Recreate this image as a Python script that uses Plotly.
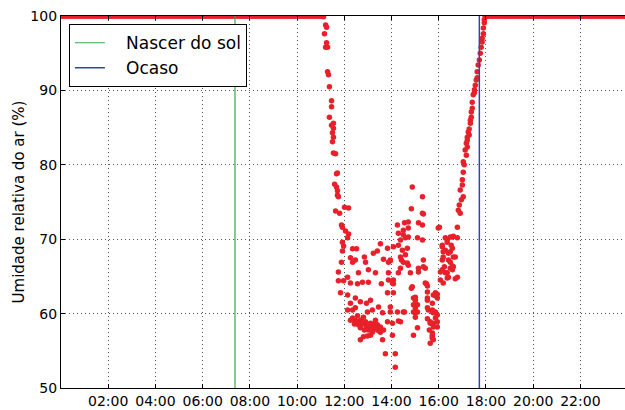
import plotly.graph_objects as go

# ---- data (hours of day, relative humidity %) ----
flat_morning_hours = [round(i * 0.05, 2) for i in range(0, 222)]      # 00:00 .. 11:05
flat_morning_values = [100.0] * len(flat_morning_hours)
flat_evening_hours = [round(17.97 + i * 0.05, 2) for i in range(0, 122)]  # 17:58 .. 24:00
flat_evening_values = [100.0] * len(flat_evening_hours)

dip_hours = [
    11.12, 11.21, 11.25, 11.16, 11.25, 11.21, 11.29, 11.29, 11.33, 11.37, 11.46, 11.46,
    11.37, 11.54, 11.46, 11.54, 11.50, 11.54, 11.50, 11.54, 11.63, 11.67, 11.71, 11.59,
    11.67, 11.71, 11.71, 11.75, 11.63, 11.80, 12.01, 12.18, 11.88, 11.92, 12.05, 12.18,
    12.14, 11.92, 11.97, 11.92, 12.35, 12.52, 11.88, 12.26, 12.47, 12.85, 13.23, 13.40,
    13.53, 13.83, 13.66, 13.95,
    12.35, 12.90, 13.87, 14.50, 14.71, 15.35, 15.14, 11.75, 12.14, 12.60, 13.02, 13.32,
    13.87, 14.29, 16.07, 16.28, 16.49, 16.62, 11.75, 11.97, 12.26, 12.56, 12.77, 13.02,
    13.57, 13.87, 14.08, 16.36, 16.70, 14.84, 15.48, 15.52, 11.84, 12.14, 12.47, 13.83,
    14.08, 14.93, 15.86, 15.94, 12.68, 12.94, 13.11, 12.26, 13.45, 13.95, 14.93, 15.01,
    15.52, 15.73, 12.14, 12.35, 12.47, 12.98, 13.19, 13.62, 13.95, 14.25, 14.50, 15.01,
    15.77, 12.26, 12.47, 12.68, 12.81, 12.90, 13.11, 13.40, 13.53, 13.23, 13.66, 13.83,
    14.04, 14.29, 15.01, 15.52, 15.86, 15.64, 15.77, 12.68, 13.02, 13.19, 13.53, 15.10,
    13.11, 12.81, 12.68, 13.62, 14.04, 14.93, 15.73, 15.73, 15.64, 15.77, 13.74, 14.16,
    14.16,
    12.35, 12.52, 12.60, 12.77, 12.94, 13.02, 13.15, 13.28, 13.36, 13.45, 12.85, 12.43,
    12.56, 12.98, 13.32,
    14.88, 15.31, 14.84, 15.31, 15.35, 14.25, 14.55, 14.71, 14.29, 14.50, 14.71, 14.50,
    14.38, 14.59, 14.71, 15.14, 15.31, 15.10, 15.31, 16.03, 14.08, 14.29, 14.46, 14.67,
    14.38, 14.59, 14.42, 14.67, 15.35, 15.14, 15.43, 14.38, 14.80, 13.95, 14.08, 14.04,
    14.88, 15.43, 15.01, 15.86, 15.52,
    16.15, 16.36, 16.58, 16.79, 16.28, 16.49, 16.19, 16.41, 16.70, 16.15, 16.36, 16.58,
    16.07, 16.19, 16.41, 16.79,
    15.52, 15.77, 15.94, 15.01, 15.52, 15.73, 15.10, 14.55, 14.93, 15.10, 15.56, 15.73,
    15.86, 15.94, 14.38, 15.64, 15.77, 15.94, 15.60, 15.94, 15.73, 15.73,
    17.25, 17.29, 17.21, 17.17, 17.21, 17.12, 17.04, 17.08, 17.04, 17.00, 16.91, 17.04,
    16.96, 16.83, 16.91, 16.79, 15.98, 16.49, 16.62, 16.28, 16.36, 16.15, 16.53, 16.58,
    16.19, 16.41, 16.62, 16.15, 16.49, 16.24, 16.58,
    17.97, 17.93, 17.89, 17.89, 17.84, 17.80, 17.76, 17.72, 17.67, 17.63, 17.63, 17.55,
    17.51, 17.46, 17.42, 17.42, 17.38, 17.34, 17.29, 17.21,
    17.59, 17.51, 17.38, 17.34, 17.17, 17.00, 16.87, 17.93, 17.84,
]
dip_values = [
    99.9, 98.8, 98.5, 97.6, 96.4, 95.8, 95.8, 92.5, 92.1, 90.5, 88.6, 87.8,
    86.4, 85.6, 85.3, 84.9, 84.3, 83.7, 83.1, 81.6, 81.5, 78.8, 78.9, 77.4,
    77.0, 76.5, 75.9, 75.7, 73.8, 73.5, 74.3, 74.2, 71.9, 71.6, 71.1, 70.7,
    70.2, 69.6, 69.1, 68.4, 68.7, 68.7, 66.9, 67.5, 67.2, 67.6, 68.1, 68.4,
    69.4, 68.8, 67.3, 67.1,
    66.9, 66.9, 66.9, 66.9, 66.5, 66.3, 65.6, 65.6, 64.9, 65.5, 65.9, 65.5,
    65.5, 65.5, 65.6, 65.5, 66.1, 66.3, 64.4, 64.4, 64.1, 64.0, 64.2, 64.2,
    64.0, 64.5, 64.0, 64.8, 64.7, 63.4, 64.0, 62.9, 62.8, 62.5, 62.1, 62.8,
    62.8, 62.1, 62.8, 62.1, 61.6, 61.4, 61.8, 61.4, 60.9, 60.9, 61.2, 60.8,
    60.8, 60.5, 60.5, 60.5, 60.8, 60.2, 60.5, 60.1, 60.2, 60.2, 60.2, 60.1,
    60.1, 59.1, 59.1, 59.1, 59.5, 58.9, 58.7, 58.5, 58.2, 58.1, 57.8, 58.9,
    58.7, 59.0, 59.5, 59.3, 59.4, 58.7, 58.2, 58.1, 57.8, 57.5, 57.5, 58.1,
    57.1, 56.9, 56.5, 56.5, 57.1, 57.1, 57.4, 56.9, 56.0, 56.5, 54.6, 54.6,
    52.8,
    59.4, 58.9, 58.5, 58.6, 58.3, 58.5, 58.2, 58.6, 57.9, 57.7, 57.8, 58.6,
    59.7, 57.0, 59.1,
    77.0, 75.7, 74.1, 73.5, 73.4, 71.9, 72.2, 72.3, 70.8, 71.2, 71.5, 70.6,
    69.9, 70.2, 70.3, 72.2, 71.9, 70.2, 69.9, 71.6, 69.0, 69.2, 68.5, 68.8,
    67.6, 67.9, 67.2, 66.8, 67.2, 66.1, 66.1, 66.1, 65.5, 67.2, 64.5, 64.1,
    63.6, 64.1, 62.2, 62.4, 62.1,
    69.0, 69.9, 70.3, 70.2, 68.5, 68.3, 67.6, 67.2, 67.6, 65.9, 65.5, 65.9,
    64.5, 64.1, 64.9, 64.9,
    63.7, 62.5, 62.6, 61.8, 61.8, 61.4, 61.2, 60.2, 60.2, 60.2, 60.5, 60.2,
    60.2, 59.8, 58.9, 58.9, 58.7, 58.9, 57.8, 58.2, 57.1, 56.7,
    84.4, 84.0, 83.3, 82.9, 82.4, 82.0, 80.4, 80.0, 79.0, 78.0, 76.6, 75.7,
    75.3, 73.9, 73.5, 71.6, 71.5, 70.3, 70.4, 70.2, 69.6, 69.2, 69.2, 68.8,
    68.3, 68.1, 67.6, 67.2, 66.9, 66.3, 66.4,
    99.9, 99.1, 98.4, 97.6, 96.5, 95.8, 95.0, 94.1, 93.4, 92.5, 91.7, 90.7,
    90.1, 89.4, 88.4, 87.6, 86.4, 85.6, 84.8, 83.7,
    91.4, 89.7, 87.1, 86.0, 81.3, 77.3, 74.6, 99.5, 97.0,
]

sunrise_hour = 7.37
sunset_hour = 17.72
tick_hours = [2, 4, 6, 8, 10, 12, 14, 16, 18, 20, 22]
tick_labels = ["02:00", "04:00", "06:00", "08:00", "10:00", "12:00",
               "14:00", "16:00", "18:00", "20:00", "22:00"]

FONT = "DejaVu Sans, Bitstream Vera Sans, sans-serif"
RED = "#e8202a"

fig = go.Figure()
fig.add_trace(go.Scatter(
    x=flat_morning_hours + dip_hours + flat_evening_hours,
    y=flat_morning_values + dip_values + flat_evening_values,
    mode="markers", marker=dict(color=RED, size=5.5, line=dict(width=0)),
    showlegend=False, cliponaxis=True,
))
fig.add_trace(go.Scatter(x=[sunrise_hour, sunrise_hour], y=[50, 100], mode="lines",
                         line=dict(color="#3aa64a", width=1.2), name="   Nascer do sol"))
fig.add_trace(go.Scatter(x=[sunset_hour, sunset_hour], y=[50, 100], mode="lines",
                         line=dict(color="#3344aa", width=1.5), name="   Ocaso"))

axis_common = dict(
    showline=True, linecolor="black", linewidth=1.2,
    ticks="inside", ticklen=4, tickcolor="black", tickwidth=1,
    showgrid=True, gridcolor="#555555", griddash="1px,3px", gridwidth=1,
    zeroline=False, automargin=False,
    tickfont=dict(family=FONT, size=14, color="black"),
)

fig.update_layout(
    width=625, height=410,
    template="none",
    paper_bgcolor="white", plot_bgcolor="white",
    margin=dict(l=61, r=0, t=16, b=22),
    font=dict(family=FONT, color="black"),
    xaxis=dict(range=[0, 23.89], tickvals=tick_hours, ticktext=tick_labels,
               mirror="ticks", **axis_common),
    yaxis=dict(range=[50, 100], dtick=10,
               title=dict(text="Umidade relativa do ar (%)",
                          font=dict(family=FONT, size=15, color="black"), standoff=2),
               **axis_common),
    legend=dict(x=0.014, y=0.978, xanchor="left", yanchor="top",
                bgcolor="white", bordercolor="black", borderwidth=1,
                font=dict(family=FONT, size=17, color="black"),
                itemwidth=30, tracegroupgap=0),
)

fig.write_html("out.html", config={"displayModeBar": False},
               post_script="document.body.style.margin='0';")
